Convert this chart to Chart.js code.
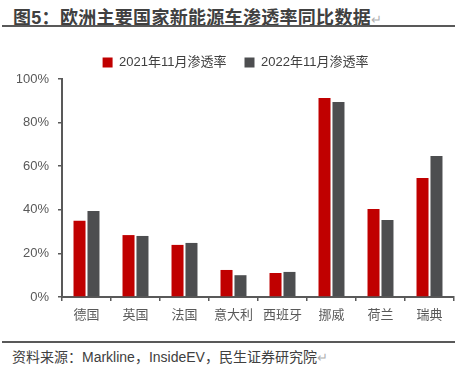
<!DOCTYPE html>
<html>
<head>
<meta charset="utf-8">
<script src="https://cdn.jsdelivr.net/npm/chart.js@4"></script>
<style>
  html, body { margin: 0; padding: 0; background: #fff; }
  body { width: 455px; height: 370px; position: relative; overflow: hidden;
         font-family: "Liberation Sans", "Noto Sans CJK SC", sans-serif; }
  .title { position: absolute; left: 13px; top: 3px; font-size: 18px; font-weight: bold;
           color: #404040; letter-spacing: 0.3px; white-space: nowrap; }
  .ret { color: #b0b0b0; font-weight: normal; font-size: 13px; }
  .rule { position: absolute; left: 2px; right: 0; height: 2px; background: #595959; }
  .source { position: absolute; left: 12px; top: 346px; font-size: 14px; color: #404040; white-space: nowrap; }
  .wrap { position: absolute; left: 0; top: 38px; width: 455px; height: 302px; }
</style>
</head>
<body>
<div class="title">图5：欧洲主要国家新能源车渗透率同比数据<span class="ret">↵</span></div>
<div class="rule" style="top:25px"></div>
<div class="wrap"><canvas id="c"></canvas></div>
<div class="rule" style="top:341px;height:1.5px"></div>
<div class="source">资料来源：Markline，InsideEV，民生证券研究院<span class="ret">↵</span></div>
<script>
/* chart data (percent) */
const countries = ['德国', '英国', '法国', '意大利', '西班牙', '挪威', '荷兰', '瑞典'];
const rate2021 = [35, 28.4, 23.9, 12.4, 11, 91.3, 40.4, 54.6];
const rate2022 = [39.4, 28, 24.8, 10, 11.5, 89.4, 35.3, 64.7];
const yTicks = [0, 20, 40, 60, 80, 100];

const axisGray = '#595959';
const tickFont = { family: '"Liberation Sans", "Noto Sans CJK SC", sans-serif', size: 13 };

// legend box is pinned so the plot top lands where the reference has it
const legendHeight = {
  id: 'legendHeight',
  beforeInit(chart) {
    const fit = chart.legend.fit;
    chart.legend.fit = function () { fit.bind(chart.legend)(); this.height = 41; };
  }
};

new Chart(document.getElementById('c'), {
  type: 'bar',
  data: {
    labels: countries,
    datasets: [
      { label: '2021年11月渗透率', data: rate2021, backgroundColor: '#C00000' },
      { label: '2022年11月渗透率', data: rate2022, backgroundColor: '#4D4E50' }
    ]
  },
  options: {
    responsive: true,
    maintainAspectRatio: false,
    animation: false,
    categoryPercentage: 0.57,
    barPercentage: 0.86,
    layout: { padding: { left: 17, right: 1, top: 0, bottom: 0 } },
    plugins: {
      tooltip: { enabled: false },
      legend: {
        position: 'top',
        labels: { boxWidth: 10, boxHeight: 10, padding: 18, color: '#404040', font: tickFont }
      }
    },
    scales: {
      x: {
        grid: { drawOnChartArea: false, drawTicks: true, tickLength: 4, color: axisGray, lineWidth: 1.5, offset: true },
        border: { color: axisGray, width: 2 },
        ticks: { color: axisGray, font: tickFont, padding: 7, maxRotation: 0 },
        afterFit(scale) { scale.height = 43; }
      },
      y: {
        min: 0, max: 100,
        afterBuildTicks(scale) { scale.ticks = yTicks.map(v => ({ value: v })); },
        grid: { drawOnChartArea: false, drawTicks: true, tickLength: 4, color: axisGray, lineWidth: 1.5 },
        border: { color: axisGray, width: 2 },
        ticks: { color: axisGray, font: tickFont, padding: 9, callback: v => v + '%' },
        afterFit(scale) { scale.width = 45; }
      }
    }
  },
  plugins: [legendHeight]
});
</script>
</body>
</html>
